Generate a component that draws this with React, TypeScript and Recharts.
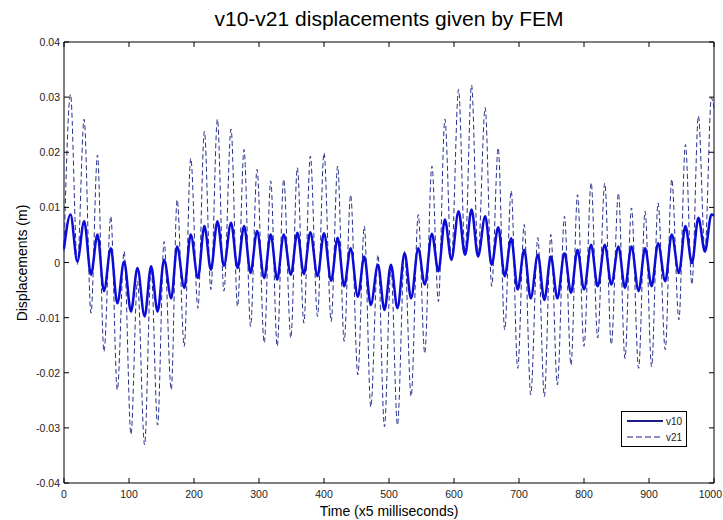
import { Legend, Line, LineChart, ReferenceArea, XAxis, YAxis } from "recharts";

// time samples at peaks / troughs (x5 ms)
const times = [
  0, 10, 20.5, 31, 41.5, 51.5, 61.5, 72, 82, 92.5,
  103, 113, 124, 134, 144, 154, 165, 174, 185, 195,
  206, 216, 226, 236, 246, 257, 267, 277, 287, 297,
  308, 318, 328, 338, 349, 359, 369, 379, 390, 400,
  411, 421, 431, 441, 452, 462, 472, 483, 493, 503,
  513, 524, 534, 545, 555, 566, 576, 586, 596, 607,
  617, 627, 637, 648, 658, 668, 678, 688, 698, 708,
  718, 729, 739, 749, 759, 770, 780, 790, 800, 811,
  821, 832, 842, 853, 863, 873, 884, 894, 904, 914,
  925, 935, 946, 956, 966, 976, 986, 996, 1000,
];

// displacements in mm
const v10mm = [
  2.5, 8.7, 0.2, 7.5, -2.2, 5.1, -5.2, 2.6, -7.4, 0.2,
  -8.9, -1.0, -9.8, -0.7, -8.9, 0.5, -6.5, 2.9, -4.6, 5.1,
  -2.8, 6.6, -1.3, 7.5, -0.6, 7.2, -1.0, 6.6, -1.9, 5.7,
  -2.8, 5.1, -3.1, 5.1, -2.2, 5.4, -2.1, 5.5, -2.5, 5.3,
  -3.3, 4.5, -4.3, 2.6, -6.2, 1.1, -7.7, -0.4, -8.6, -0.4,
  -8.3, 1.7, -6.5, 2.6, -4.0, 5.2, -1.6, 7.8, 0.5, 9.3,
  1.4, 9.6, 1.1, 8.4, -0.4, 6.4, -2.5, 4.4, -4.9, 2.3,
  -6.5, 1.4, -6.8, 1.1, -6.5, 1.7, -5.5, 2.3, -4.9, 3.2,
  -4.3, 3.2, -4.0, 2.9, -4.6, 2.9, -5.2, 2.6, -4.3, 3.5,
  -3.4, 5.1, -1.9, 6.6, -0.1, 8.1, 2.0, 8.7, 8.5,
];

const v21mm = [
  2.0, 30.5, -0.4, 26.0, -9.2, 19.5, -16.2, 8.4, -23.1, 2.0,
  -31.2, -3.4, -33.1, -1.0, -29.5, 3.8, -23.1, 11.4, -15.2, 18.9,
  -8.3, 23.8, -4.9, 26.0, -5.2, 24.2, -8.0, 20.5, -11.6, 16.9,
  -14.6, 14.8, -15.2, 15.1, -13.7, 17.2, -11.0, 19.3, -9.8, 19.9,
  -10.7, 17.5, -14.3, 12.3, -20.4, 6.6, -26.2, 1.4, -29.8, -1.0,
  -29.5, 2.0, -24.3, 8.7, -16.5, 17.5, -7.1, 26.0, 0.2, 31.4,
  1.7, 32.2, 1.1, 28.1, -4.3, 20.8, -12.2, 13.0, -19.2, 6.9,
  -24.0, 4.5, -24.3, 5.1, -22.2, 8.4, -18.6, 12.3, -15.2, 14.5,
  -13.7, 14.4, -14.9, 12.6, -17.4, 9.9, -19.2, 9.3, -18.9, 10.8,
  -15.8, 15.1, -10.4, 21.4, -4.0, 26.6, 2.0, 29.9, 28.0,
];

const xTicks = [0, 100, 200, 300, 400, 500, 600, 700, 800, 900, 1000];
const yTicks = [-0.04, -0.03, -0.02, -0.01, 0, 0.01, 0.02, 0.03, 0.04];

const chartData = times.map((t, i) => ({
  t,
  v10: v10mm[i] / 1000,
  v21: v21mm[i] / 1000,
}));

const W = 723;
const H = 520;
const PLOT = { left: 64, right: 714, top: 42, bottom: 483 };
const FONT = "'Liberation Sans', Arial, Helvetica, sans-serif";
const V10_COLOR = "#0c0cd6";
const V21_COLOR = "#26308c";

const XTick = (props: any) => {
  const { x, payload } = props;
  // keep the last label inside the page
  const atEdge = x + 12 > W;
  return (
    <g>
      <line x1={x} x2={x} y1={PLOT.bottom} y2={PLOT.bottom - 5} stroke="#000" />
      <line x1={x} x2={x} y1={PLOT.top} y2={PLOT.top + 5} stroke="#000" />
      <text
        x={atEdge ? W - 1 : x}
        y={PLOT.bottom + 15}
        textAnchor={atEdge ? "end" : "middle"}
        fontSize={10.5}
        fontFamily={FONT}
        fill="#222"
      >
        {payload.value}
      </text>
    </g>
  );
};

const YTick = (props: any) => {
  const { y, payload } = props;
  const v = payload.value as number;
  const label = Math.abs(v) < 1e-9 ? "0" : v.toFixed(2);
  return (
    <g>
      <line x1={PLOT.left} x2={PLOT.left + 5} y1={y} y2={y} stroke="#000" />
      <line x1={PLOT.right} x2={PLOT.right - 5} y1={y} y2={y} stroke="#000" />
      <text
        x={PLOT.left - 4}
        y={y + 4}
        textAnchor="end"
        fontSize={10.5}
        fontFamily={FONT}
        fill="#222"
      >
        {label}
      </text>
    </g>
  );
};

const LegendBox = () => (
  <svg width={66} height={36} style={{ display: "block" }}>
    <rect x={0.5} y={0.5} width={65} height={35} fill="#fff" stroke="#000" />
    <line x1={6} x2={42} y1={10} y2={10} stroke="#1a1a8a" strokeWidth={2} />
    <line
      x1={6}
      x2={42}
      y1={26}
      y2={26}
      stroke="#1a1a8a"
      strokeWidth={1}
      strokeDasharray="6 3"
    />
    <text x={45} y={14} fontSize={10} fontFamily={FONT} fill="#222">
      v10
    </text>
    <text x={45} y={30} fontSize={10} fontFamily={FONT} fill="#222">
      v21
    </text>
  </svg>
);

const App = () => {
  return (
    <div
      style={{
        position: "absolute",
        left: 0,
        top: 0,
        width: W,
        height: H,
        background: "#fff",
        fontFamily: FONT,
      }}
    >
      <div
        style={{
          position: "absolute",
          left: PLOT.left,
          width: PLOT.right - PLOT.left,
          top: 6,
          textAlign: "center",
          fontSize: 21,
          lineHeight: "26px",
          color: "#000",
        }}
      >
        v10-v21 displacements given by FEM
      </div>
      <div
        style={{
          position: "absolute",
          left: PLOT.left,
          width: PLOT.right - PLOT.left,
          top: 502,
          textAlign: "center",
          fontSize: 14,
          lineHeight: "18px",
          color: "#000",
        }}
      >
        Time (x5 milliseconds)
      </div>
      <div
        style={{
          position: "absolute",
          left: 22 - 220,
          width: 440,
          top: (PLOT.top + PLOT.bottom) / 2 - 9,
          height: 18,
          lineHeight: "18px",
          textAlign: "center",
          fontSize: 14,
          color: "#000",
          transform: "rotate(-90deg)",
        }}
      >
        Displacements (m)
      </div>
      <LineChart
        width={W}
        height={H}
        data={chartData}
        margin={{ top: PLOT.top, right: W - PLOT.right, left: 0, bottom: 0 }}
      >
        <XAxis
          dataKey="t"
          type="number"
          domain={[0, 1000]}
          ticks={xTicks}
          interval={0}
          height={H - PLOT.bottom}
          axisLine={false}
          tickLine={false}
          tick={<XTick />}
        />
        <YAxis
          type="number"
          domain={[-0.04, 0.04]}
          ticks={yTicks}
          interval={0}
          width={PLOT.left}
          allowDataOverflow
          axisLine={false}
          tickLine={false}
          tick={<YTick />}
        />
        <ReferenceArea
          x1={0}
          x2={1000}
          y1={-0.04}
          y2={0.04}
          fill="none"
          stroke="#000"
          strokeWidth={1}
        />
        <Legend
          layout="horizontal"
          verticalAlign="middle"
          align="center"
          content={<LegendBox />}
          wrapperStyle={{ position: "absolute", left: 621, top: 411, width: 66, height: 36 }}
        />
        <Line
          type="monotone"
          dataKey="v21"
          stroke={V21_COLOR}
          strokeWidth={1}
          strokeDasharray="5 3"
          dot={false}
          isAnimationActive={false}
        />
        <Line
          type="monotone"
          dataKey="v10"
          stroke={V10_COLOR}
          strokeWidth={2.5}
          dot={false}
          isAnimationActive={false}
        />
      </LineChart>
    </div>
  );
};

export default App;
